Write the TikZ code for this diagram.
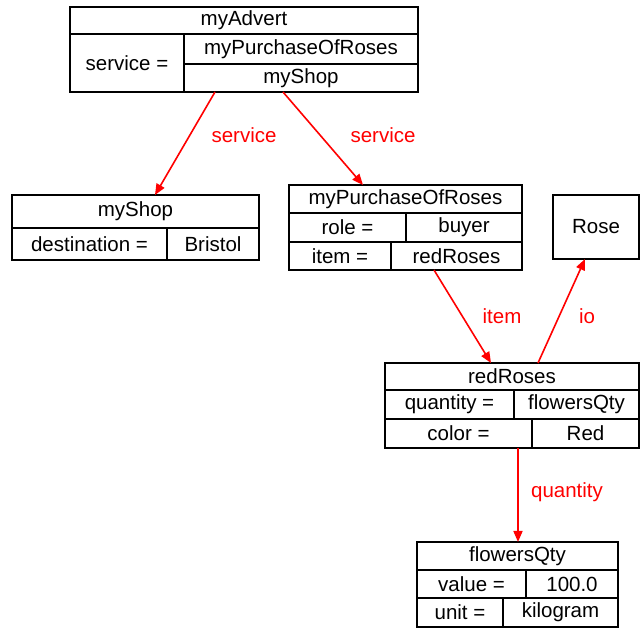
\documentclass[tikz,border=0pt]{standalone}
\usepackage{fontspec}
\setmainfont{Liberation Sans}
\usetikzlibrary{arrows.meta}
\newcommand\mkcell[6]{%
  \pgfmathsetmacro\cw{#4-#2}\pgfmathsetmacro\ch{#5-#3}%
  \node[cell,minimum width=\cw pt,minimum height=\ch pt] (#1) at ({(#2+#4)/2},{(#3+#5)/2}) {#6};}
\tikzset{
  cell/.style={draw=black,line width=1.8pt,inner sep=0pt,outer sep=0pt,font=\fontsize{20.5}{22}\selectfont},
  rel/.style={draw=red,line width=1.6pt,-{Triangle[length=11pt,width=9pt]}},
  rellabel/.style={text=red,inner sep=0pt,font=\fontsize{20.5}{22}\selectfont}
}
\begin{document}
\begin{tikzpicture}[x=1pt,y=-1pt]
\useasboundingbox (0,0) rectangle (641,628);
% myAdvert
\mkcell{advTitle}{70}{7}{418}{34}{myAdvert}
\mkcell{advSvc}{70}{34}{184}{92}{service =}
\mkcell{advPur}{184}{34}{418}{64}{myPurchaseOfRoses}
\mkcell{advShop}{184}{64}{418}{92}{myShop}
% myShop
\mkcell{shopTitle}{12}{195}{259}{228}{myShop}
\mkcell{shopDestL}{12}{228}{167}{260}{destination =}
\mkcell{shopDestV}{167}{228}{259}{260}{Bristol}
% myPurchaseOfRoses
\mkcell{purTitle}{289}{185}{522}{213}{myPurchaseOfRoses}
\mkcell{purRoleL}{289}{213}{406}{242}{role =}
\mkcell{purRoleV}{406}{213}{522}{242}{buyer}
\mkcell{purItemL}{289}{242}{391}{270}{item =}
\mkcell{purItemV}{391}{242}{522}{270}{redRoses}
% Rose
\mkcell{rose}{553}{195}{639}{259}{Rose}
% redRoses
\mkcell{rrTitle}{385}{363}{639}{390}{redRoses}
\mkcell{rrQtyL}{385}{390}{514}{419}{quantity =}
\mkcell{rrQtyV}{514}{390}{639}{419}{flowersQty}
\mkcell{rrColL}{385}{419}{532}{448}{color =}
\mkcell{rrColV}{532}{419}{639}{448}{Red}
% flowersQty
\mkcell{fqTitle}{417}{542}{618}{570}{flowersQty}
\mkcell{fqValL}{417}{570}{526}{598}{value =}
\mkcell{fqValV}{526}{570}{618}{598}{100.0}
\mkcell{fqUnitL}{417}{598}{503}{627}{unit =}
\mkcell{fqUnitV}{503}{598}{618}{627}{kilogram}
% connectors
\draw[rel] ([xshift=31pt]advShop.south west) -- ([xshift=143pt]shopTitle.north west);
\draw[rel] ([xshift=99pt]advShop.south west) -- ([xshift=74pt]purTitle.north west);
\draw[rel] ([xshift=43pt]purItemV.south west) -- ([xshift=106pt]rrTitle.north west);
\draw[rel] ([xshift=153pt]rrTitle.north west) -- ([xshift=32pt]rose.south west);
\draw[rel] ([xshift=133pt]rrColL.south west) -- ([xshift=101pt]fqTitle.north west);
% labels
\node[rellabel] (lblSvc1) at (244,135) {service};
\node[rellabel] (lblSvc2) at (383,135) {service};
\node[rellabel] (lblItem) at (502,316) {item};
\node[rellabel] (lblIo) at (587,316) {io};
\node[rellabel] (lblQty) at (567,492) {quantity};
\end{tikzpicture}
\end{document}
